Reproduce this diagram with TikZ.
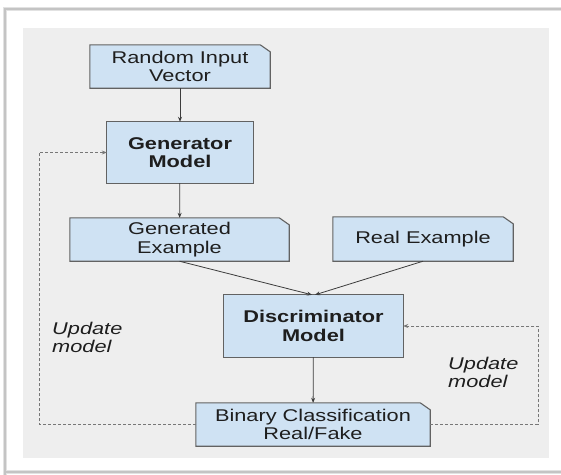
\documentclass[tikz,border=0pt]{standalone}
\usepackage{fontspec}
\setmainfont{Liberation Sans}[FakeStretch=1.28]
\usetikzlibrary{arrows.meta}
\definecolor{bgc}{HTML}{EEEEEE}
\definecolor{boxc}{HTML}{CFE2F3}
\definecolor{edgec}{HTML}{626262}
\definecolor{linec}{HTML}{3C3C3C}
\definecolor{dashc}{HTML}{777777}
\definecolor{txtc}{HTML}{1E1E1E}
\definecolor{framec}{HTML}{C4C4C4}
\definecolor{framesh}{HTML}{E2E2E2}
\pgfdeclarelayer{background}
\pgfsetlayers{background,main}
\begin{document}
\begin{tikzpicture}[x=1pt,y=-1pt,
  boxtext/.style={align=center, inner sep=0pt, text=txtc, font=\fontsize{17}{18.5}\selectfont},
  boldtext/.style={boxtext, font=\fontsize{17}{18.5}\selectfont\bfseries},
  boxshape/.style={fill=boxc, draw=edgec, line width=1.1pt, line join=miter},
  arr/.style={draw=linec, line width=0.8pt, -{Stealth[length=5pt,width=4pt]}},
  dasharr/.style={draw=dashc, line width=0.9pt, dash pattern=on 3pt off 2pt, -{Stealth[length=5pt,width=4pt]}},
  lbl/.style={align=left, inner sep=0pt, text=txtc, font=\fontsize{17}{18}\selectfont\itshape},
  frameline/.style={draw=framec, line width=1.6pt}
]
\useasboundingbox (0,0) rectangle (561,474);
\clip (0,0) rectangle (561,474);

\node[boxtext, minimum width=180pt, minimum height=43pt] (rnd) at (180,66.5) {Random Input\\Vector};
\node[boldtext, minimum width=146pt, minimum height=61pt] (gen) at (180,152.5) {Generator\\Model};
\node[boxtext, minimum width=219pt, minimum height=43pt] (gex) at (179.5,239.5) {Generated\\Example};
\node[boxtext, minimum width=180pt, minimum height=44pt] (rex) at (423,239) {Real Example};
\node[boldtext, minimum width=179pt, minimum height=62pt] (dis) at (313.5,326) {Discriminator\\Model};
\node[boxtext, minimum width=234pt, minimum height=43pt] (bin) at (313,424.5) {Binary Classification\\Real/Fake};

\node[lbl, anchor=north west] (lu) at (52,322) {Update\\model};
\node[lbl, anchor=north west] (ru) at (448,357) {Update\\model};

\begin{pgfonlayer}{background}
  \fill[white] (0,0) rectangle (561,474);
  \draw[draw=framesh, line width=4pt] (5,490) -- (5,9) -- (580,9);
  \draw[draw=framesh, line width=4pt] (5,472) -- (580,472);
  \draw[frameline] (5,490) -- (5,9) -- (580,9);
  \draw[frameline] (5,472) -- (580,472);
  \fill[bgc] (23,28) rectangle (549,458);
  \foreach \n in {gen,dis}
    \draw[boxshape] (\n.south west) rectangle (\n.north east);
  \foreach \n in {rnd,gex,rex,bin}
    \draw[boxshape] (\n.south west) -- (\n.south east) -- ([yshift=-7pt]\n.north east)
      -- ([xshift=-10pt]\n.north east) -- (\n.north west) -- cycle;
\end{pgfonlayer}

\coordinate (lx) at (39,152.5);
\coordinate (rx) at (538,326);

\draw[arr] (rnd) -- (gen);
\draw[arr] (gen) -- (gex);
\draw[arr] (gex.south) -- ([xshift=-1.5pt]dis.north);
\draw[arr] (rex.south) -- ([xshift=1.5pt]dis.north);
\draw[arr] (dis) -- (bin);
\draw[dasharr] (bin.west) -| (lx) -- (gen.west);
\draw[dasharr] (bin.east) -| (rx) -- (dis.east);
\end{tikzpicture}
\end{document}
